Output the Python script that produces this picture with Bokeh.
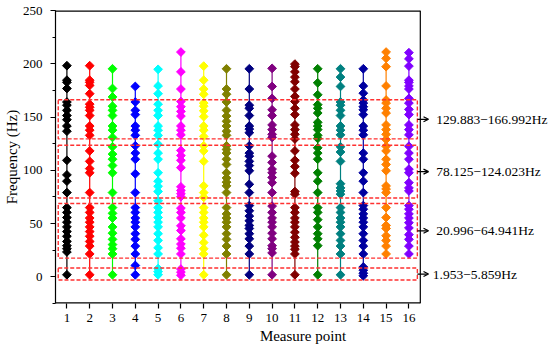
from bokeh.plotting import figure
from bokeh.models import (Range1d, FixedTicker, SingleIntervalTicker, Arrow,
                          OpenHead, ColumnDataSource)
from bokeh.core.properties import value
from bokeh.embed import file_html
from bokeh.resources import INLINE
import math

# ---- data: resonance frequencies (Hz) at each measure point ----
f1 = [1.95, 23.4, 26.4, 29.3, 33.2, 38.1, 42.5, 46.9, 51.3, 55.7, 60.5, 65.0, 79.1, 89.8, 95.7,
      109.4, 136.7, 141.6, 147.5, 151.4, 156.3, 161.1, 164.1, 176.8, 182.6, 184.6, 198.2]
f2 = [1.95, 21.5, 28.9, 33.2, 38.1, 42.5, 46.9, 51.3, 55.2, 60.5, 65.0, 79.1, 97.7, 101.6, 108.4,
      118.2, 132.8, 137.7, 141.6, 151.4, 156.3, 159.2, 162.1, 171.9, 179.7, 182.6, 184.6, 198.2]
f3 = [1.95, 21.5, 26.4, 30.3, 35.2, 41.0, 46.9, 55.2, 59.6, 65.0, 79.1, 97.7, 104.5, 110.4, 115.2,
      122.1, 130.9, 137.7, 141.6, 151.4, 156.3, 160.2, 168.9, 176.8, 195.3]
f4 = [1.95, 10.7, 21.5, 28.9, 35.2, 40.5, 46.9, 51.3, 55.2, 60.5, 65.0, 79.1, 96.7, 110.4, 116.2,
      123.0, 132.8, 137.7, 141.6, 152.3, 156.3, 164.1, 178.7]
f5 = [1.95, 4.9, 7.8, 21.5, 27.3, 34.2, 40.5, 46.9, 51.3, 55.7, 60.5, 65.0, 71.3, 80.1, 85.0, 89.8,
      97.7, 110.4, 116.2, 124.5, 132.8, 137.7, 141.6, 151.4, 156.3, 162.1, 171.9, 179.2, 194.8]
f6 = [1.5, 4.4, 7.3, 21.5, 26.9, 30.8, 35.7, 43.5, 47.9, 55.2, 60.5, 64.5, 75.2, 78.1, 81.1, 84.5,
      102.5, 109.4, 113.8, 118.7, 133.3, 137.7, 141.6, 150.9, 155.3, 159.7, 164.6, 176.3, 192.4, 211.0]
f7 = [1.95, 21.5, 26.4, 32.2, 39.1, 46.9, 51.3, 55.2, 60.5, 65.0, 74.7, 79.1, 85.4, 108.4, 118.2,
      123.0, 131.8, 137.7, 141.6, 150.4, 155.8, 160.2, 163.1, 171.4, 176.3, 184.6, 197.8]
f8 = [1.95, 21.5, 28.9, 35.2, 40.5, 46.9, 51.3, 55.2, 59.1, 65.0, 79.1, 85.4, 88.9, 92.8, 97.7,
      105.5, 110.4, 116.2, 119.6, 123.0, 132.8, 136.7, 141.6, 146.0, 150.9, 156.3, 164.1, 171.4,
      176.3, 195.3]
f9 = [1.95, 21.5, 28.9, 35.7, 40.5, 45.4, 48.3, 52.7, 57.1, 62.0, 66.9, 79.1, 86.9, 99.6, 104.5,
      108.4, 113.3, 116.2, 123.0, 135.3, 138.7, 141.6, 151.4, 158.2, 161.1, 176.3, 195.3]
f10 = [1.95, 22.5, 26.4, 29.3, 35.7, 41.0, 46.9, 51.3, 55.2, 60.5, 66.4, 79.1, 88.4, 93.3, 97.7,
       101.1, 107.4, 113.3, 130.9, 133.8, 138.2, 142.6, 151.4, 156.8, 167.5, 178.7, 195.7]
f11 = [1.95, 21.5, 25.9, 28.9, 32.7, 37.1, 41.9, 46.9, 51.3, 55.2, 60.5, 65.0, 77.6, 80.1, 97.2,
       103.5, 109.4, 118.2, 129.4, 133.8, 138.2, 142.6, 152.3, 158.2, 164.6, 169.4, 176.3, 183.1,
       187.5, 192.4, 197.3, 199.7]
f12 = [1.95, 29.3, 35.7, 40.5, 46.9, 53.7, 60.5, 65.0, 79.1, 89.8, 97.7, 110.4, 116.2, 121.1,
       129.9, 132.8, 138.2, 141.6, 145.0, 153.8, 158.2, 161.6, 170.9, 182.1, 195.3]
f13 = [1.95, 21.5, 28.9, 34.2, 40.5, 46.9, 51.3, 55.2, 60.5, 65.0, 77.6, 80.6, 83.5, 87.4, 108.4,
       117.2, 122.1, 133.3, 137.7, 141.6, 151.4, 156.3, 161.1, 164.1, 178.7, 187.5, 195.3]
f14 = [1.0, 3.4, 6.3, 9.3, 21.5, 28.9, 34.2, 40.5, 46.9, 51.3, 55.2, 59.1, 63.5, 66.9, 79.1, 89.8,
       97.7, 110.4, 116.2, 133.3, 137.7, 141.6, 152.3, 156.8, 159.7, 163.1, 166.0, 172.4, 179.2,
       195.3]
f15 = [21.5, 28.9, 34.2, 38.6, 45.4, 48.3, 55.7, 65.0, 79.1, 82.5, 85.4, 99.6, 105.5, 110.4, 118.2,
       122.6, 128.9, 133.8, 138.2, 142.6, 153.8, 158.2, 163.1, 166.0, 179.2, 197.3, 205.1, 211.0]
f16 = [21.5, 28.9, 35.2, 39.6, 45.9, 50.8, 55.2, 59.1, 63.5, 66.9, 80.6, 83.5, 88.4, 97.7, 101.1,
       110.4, 116.2, 122.6, 133.3, 138.2, 142.6, 152.3, 157.2, 163.1, 167.5, 176.3, 179.2, 182.6,
       184.6, 197.8, 204.6, 210.4]
freqs = [f1, f2, f3, f4, f5, f6, f7, f8, f9, f10, f11, f12, f13, f14, f15, f16]
points = list(range(1, 17))
colors = ["#000000", "#FF0000", "#00FF00", "#0000FF", "#00FFFF", "#FF00FF", "#FFFF00", "#808000",
          "#000080", "#800080", "#800000", "#008000", "#008080", "#0000A0", "#FF8000", "#8000FF"]

# frequency bands (dashed boxes) and their labels
band_lo = [129.5, 74.0, 17.6, -3.0]
band_hi = [166.3, 123.5, 68.9, 8.3]
band_labels = ["129.883\u2212166.992Hz", "78.125\u2212124.023Hz",
               "20.996\u221264.941Hz", "1.953\u22125.859Hz"]
label_x = [17.2, 17.2, 17.2, 17.05]
box_x0, box_x1 = 0.62, 16.37

X0, X1 = 0.5, 16.5      # axis box extent
Y0, Y1 = -25, 250

FONT = "Liberation Serif"

p = figure(width=550, height=346, output_backend="svg", toolbar_location=None,
           x_range=Range1d(X0, 22.21), y_range=Range1d(Y0, Y1),
           min_border_left=52, min_border_right=0, min_border_top=10, min_border_bottom=41)
p.xgrid.visible = False
p.ygrid.visible = False
p.outline_line_color = None
p.background_fill_color = "white"
p.border_fill_color = "white"

# axis box (top, right, bottom lines)
p.segment(x0=[X0, X1, X0], x1=[X1, X1, X1], y0=[Y1, Y0, Y0], y1=[Y1, Y1, Y0],
          line_color="black", line_width=[2.4, 1.2, 2.4])

# stems and markers
for x, ys, c in zip(points, freqs, colors):
    p.segment(x0=[x], x1=[x], y0=[min(ys)], y1=[max(ys)], line_color=c, line_width=1.2)
    src = ColumnDataSource(dict(x=[x] * len(ys), y=ys))
    p.scatter("x", "y", source=src, marker="square", angle=math.pi / 4, size=6.2,
              fill_color=c, line_color=c)

# band boxes
p.quad(left=[box_x0] * 4, right=[box_x1] * 4, bottom=band_lo, top=band_hi,
       fill_color=None, line_color="#FF3030", line_width=1.4, line_dash="4 2")

# arrows + labels
mids = [(lo + hi) / 2 for lo, hi in zip(band_lo, band_hi)]
for ym in mids:
    p.add_layout(Arrow(x_start=box_x1, y_start=ym, x_end=16.86, y_end=ym,
                       line_color="black", line_width=1.2,
                       end=OpenHead(size=5, line_color="black", line_width=1.2)))
p.text(x=label_x, y=mids, text=band_labels, text_font=value(FONT), text_font_size="13.5px",
       text_baseline="middle", text_align="left", text_color="black")

# axes
p.xaxis.ticker = FixedTicker(ticks=points)
p.yaxis.ticker = SingleIntervalTicker(interval=50, num_minor_ticks=2)
for ax in (p.xaxis[0], p.yaxis[0]):
    ax.axis_line_color = "black"
    ax.axis_line_width = 1.2
    ax.major_tick_line_color = "black"
    ax.major_tick_line_width = 1.2
    ax.major_tick_out = 5
    ax.major_tick_in = 0
    ax.major_label_text_font = FONT
    ax.major_label_text_font_size = "13px"
    ax.major_label_text_color = "black"
    ax.axis_label_text_font = FONT
    ax.axis_label_text_font_size = "15px"
    ax.axis_label_text_font_style = "normal"
    ax.axis_label_text_color = "black"
p.xaxis.major_label_standoff = 5
p.xaxis.axis_label_standoff = 3
p.yaxis.major_label_standoff = 8
p.yaxis.axis_label_standoff = 0
p.xaxis.axis_line_color = None
p.xaxis.minor_tick_line_color = None
p.yaxis.minor_tick_line_color = "black"
p.yaxis.minor_tick_out = 3
p.yaxis.minor_tick_in = 0
p.xaxis.axis_label = "Measure point"
p.yaxis.axis_label = "Frequency (Hz)"

open("out.html", "w").write(file_html(p, INLINE))
